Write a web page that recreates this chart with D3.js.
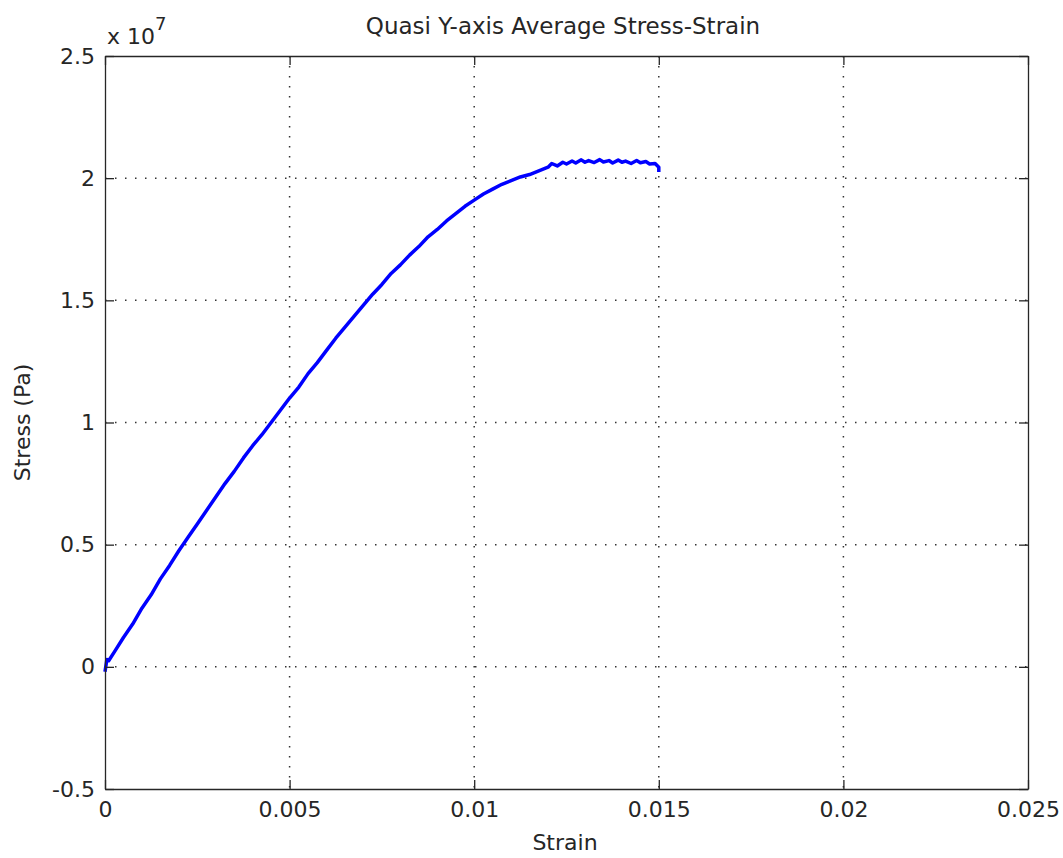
<!DOCTYPE html>
<html>
<head>
<meta charset="utf-8">
<script src="https://cdn.jsdelivr.net/npm/d3@7"></script>
<style>
  body { margin: 0; background: #fff; }
  svg text { font-family: "DejaVu Sans", sans-serif; fill: #262626; }
</style>
</head>
<body>
<svg id="chart" width="1063" height="858"></svg>
<script>
// Strain values (dimensionless)
const strain = [
  0, 0.00005, 0.0001, 0.00025, 0.0005, 0.00075, 0.001, 0.00125, 0.0015, 0.00175,
  0.002, 0.00225, 0.0025, 0.00275, 0.003, 0.00325, 0.0035, 0.00375, 0.004, 0.00425,
  0.0045, 0.00475, 0.005, 0.00525, 0.0055, 0.00575, 0.006, 0.00625, 0.0065, 0.00675,
  0.007, 0.00725, 0.0075, 0.00775, 0.008, 0.00825, 0.0085, 0.00875, 0.009, 0.00925,
  0.0095, 0.00975, 0.01, 0.01025, 0.0105, 0.01075, 0.011, 0.01125, 0.0115, 0.01175,
  0.012, 0.0121, 0.01225, 0.0124, 0.0125, 0.01265, 0.01275, 0.0129, 0.013, 0.0131,
  0.01325, 0.0134, 0.0135, 0.01365, 0.01375, 0.0139, 0.014, 0.0141, 0.01425, 0.0144,
  0.0145, 0.01465, 0.01475, 0.0149, 0.015, 0.015
];
// Stress values in units of 1e6 Pa
const stressMPa = [
  -0.2, 0.3, 0.25, 0.6, 1.2, 1.75, 2.4, 2.95, 3.6, 4.15,
  4.75, 5.3, 5.85, 6.4, 6.95, 7.5, 8.0, 8.55, 9.05, 9.5,
  10.0, 10.5, 11.0, 11.45, 12.0, 12.45, 12.95, 13.45, 13.9, 14.35,
  14.8, 15.25, 15.65, 16.1, 16.45, 16.85, 17.2, 17.6, 17.9, 18.25,
  18.55, 18.85, 19.1, 19.35, 19.55, 19.75, 19.9, 20.05, 20.15, 20.3,
  20.45, 20.6, 20.5, 20.65, 20.58, 20.7, 20.62, 20.75, 20.65, 20.72,
  20.64, 20.76, 20.66, 20.72, 20.62, 20.74, 20.65, 20.7, 20.6, 20.72,
  20.63, 20.68, 20.58, 20.6, 20.45, 20.25
];
const xTicks = [0, 0.005, 0.01, 0.015, 0.02, 0.025];
const xTickLabels = ["0", "0.005", "0.01", "0.015", "0.02", "0.025"];
const yTicks = [-0.5e7, 0, 0.5e7, 1e7, 1.5e7, 2e7, 2.5e7];
const yTickLabels = ["-0.5", "0", "0.5", "1", "1.5", "2", "2.5"];

const data = strain.map((s, i) => ({ x: s, y: stressMPa[i] * 1e6 }));

const svg = d3.select("#chart");
const L = 105, R = 1028, T = 56, B = 789;
const x = d3.scaleLinear().domain([0, 0.025]).range([L, R]);
const y = d3.scaleLinear().domain([-0.5e7, 2.5e7]).range([B, T]);
const axisColor = "#262626";
const fs = 22;
const ff = "'DejaVu Sans', sans-serif";

// grid
const grid = svg.append("g");
xTicks.slice(1, -1).forEach(t => {
  grid.append("line").attr("x1", x(t)).attr("x2", x(t)).attr("y1", T).attr("y2", B)
    .attr("stroke", "#333").attr("stroke-width", 1.5).attr("stroke-dasharray", "1.5,8.5");
});
yTicks.slice(1, -1).forEach(t => {
  grid.append("line").attr("x1", L).attr("x2", R).attr("y1", y(t)).attr("y2", y(t))
    .attr("stroke", "#333").attr("stroke-width", 1.5).attr("stroke-dasharray", "1.5,8.5");
});

// data line
const line = d3.line().x(d => x(d.x)).y(d => y(d.y));
svg.append("path").datum(data).attr("d", line)
  .attr("fill", "none").attr("stroke", "#0000ff").attr("stroke-width", 3.5)
  .attr("stroke-linejoin", "round");

// axes (ticks inward, box)
const tickLen = 9;
const xAxisB = d3.axisBottom(x).tickValues(xTicks).tickFormat((d, i) => xTickLabels[i])
  .tickSizeInner(-tickLen).tickSizeOuter(0).tickPadding(12);
const xAxisT = d3.axisTop(x).tickValues(xTicks).tickFormat("").tickSizeInner(-tickLen).tickSizeOuter(0);
const yAxisL = d3.axisLeft(y).tickValues(yTicks).tickFormat((d, i) => yTickLabels[i])
  .tickSizeInner(-tickLen).tickSizeOuter(0).tickPadding(10);
const yAxisR = d3.axisRight(y).tickValues(yTicks).tickFormat("").tickSizeInner(-tickLen).tickSizeOuter(0);

function style(g) {
  g.select(".domain").attr("stroke", axisColor).attr("stroke-width", 1.3);
  g.selectAll(".tick line").attr("stroke", axisColor).attr("stroke-width", 1.3);
  g.selectAll(".tick text").attr("font-size", fs).attr("fill", axisColor)
    .style("font-family", ff);
}
svg.append("g").attr("transform", `translate(0,${B})`).call(xAxisB).call(style);
svg.append("g").attr("transform", `translate(0,${T})`).call(xAxisT).call(style);
svg.append("g").attr("transform", `translate(${L},0)`).call(yAxisL).call(style);
svg.append("g").attr("transform", `translate(${R},0)`).call(yAxisR).call(style);

// exponent label
const ex = svg.append("text").attr("x", 107).attr("y", 44).attr("font-size", fs);
ex.append("tspan").text("x 10");
ex.append("tspan").attr("dy", -14).attr("font-size", 18).text("7");

// title
svg.append("text").attr("x", 563).attr("y", 34).attr("text-anchor", "middle")
  .attr("font-size", 23).text("Quasi Y-axis Average Stress-Strain");
// x label
svg.append("text").attr("x", 565).attr("y", 850).attr("text-anchor", "middle")
  .attr("font-size", fs).text("Strain");
// y label
svg.append("text").attr("transform", `translate(30,${(T + B) / 2}) rotate(-90)`)
  .attr("text-anchor", "middle").attr("font-size", fs).text("Stress (Pa)");
</script>
</body>
</html>
